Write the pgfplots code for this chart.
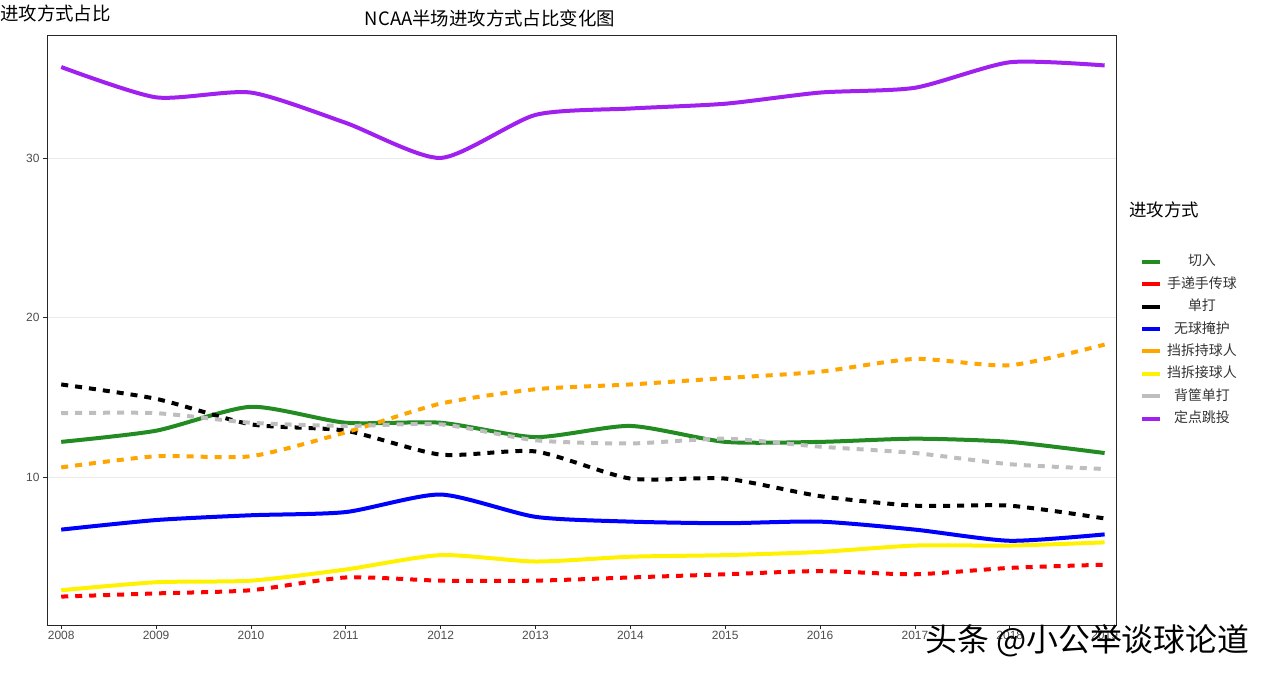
\documentclass[border=0pt]{standalone}
\usepackage{fontspec}
\setmainfont{Liberation Sans}
\newfontfamily\cjk{Noto Sans CJK SC}
\usepackage{pgfplots}
\pgfplotsset{compat=1.18}
\definecolor{cgreen}{RGB}{34,139,34}
\definecolor{corange}{RGB}{255,165,0}
\definecolor{cgray}{RGB}{190,190,190}
\definecolor{cpurple}{RGB}{160,32,240}
\definecolor{ctick}{RGB}{77,77,77}
\definecolor{cgrid}{RGB}{235,235,235}
\begin{document}
\begin{tikzpicture}[x=1bp,y=1bp]
\useasboundingbox (0,0) rectangle (1274,676);
\begin{axis}[
  at={(47bp,51bp)}, anchor=south west,
  scale only axis, width=1069bp, height=590bp,
  xmin=2007.85, xmax=2019.12, ymin=0.72, ymax=37.71,
  xtick={2008,2009,2010,2011,2012,2013,2014,2015,2016,2017,2018,2019},
  ytick={10,20,30},
  /pgf/number format/1000 sep={},
  /pgf/number format/assume math mode=true,
  ticklabel style={font=\fontsize{12}{14}\selectfont, text=ctick},
  xticklabel style={yshift=1bp},
  ymajorgrids, grid style={cgrid, line width=0.8bp},
  axis line style={black!85, line width=0.8bp},
  tick style={black!85, line width=0.8bp},
  tick align=outside, major tick length=4bp,
  tick pos=left,
  every axis plot/.append style={line width=4bp, smooth, tension=0.4},
  legend image code/.code={\draw[#1, solid, line width=4bp] (0bp,0bp) -- (18bp,0bp);},
  legend cell align=center,
  legend style={at={(1.0225,0.6274)}, anchor=north west, draw=none, fill=none,
    inner sep=0pt, outer sep=0pt, column sep=5bp, row sep=8.4bp,
    nodes={inner sep=0pt, text height=11bp, text depth=3bp},
    font=\cjk\fontsize{14}{16}\selectfont, text=black!80},
]
% 切入
\addplot[cgreen] coordinates {(2008,12.2)(2009,12.9)(2010,14.4)(2011,13.4)(2012,13.4)(2013,12.5)(2014,13.2)(2015,12.2)(2016,12.2)(2017,12.4)(2018,12.2)(2019,11.5)};
\addlegendentry{切入}
% 手递手传球
\addplot[red, dash pattern=on 7bp off 7bp] coordinates {(2008,2.5)(2009,2.7)(2010,2.9)(2011,3.7)(2012,3.5)(2013,3.5)(2014,3.7)(2015,3.9)(2016,4.1)(2017,3.9)(2018,4.3)(2019,4.5)};
\addlegendentry{手递手传球}
% 单打
\addplot[black, dash pattern=on 7bp off 7bp] coordinates {(2008,15.8)(2009,14.9)(2010,13.3)(2011,12.9)(2012,11.4)(2013,11.6)(2014,9.9)(2015,9.9)(2016,8.8)(2017,8.2)(2018,8.2)(2019,7.4)};
\addlegendentry{单打}
% 无球掩护
\addplot[blue] coordinates {(2008,6.7)(2009,7.3)(2010,7.6)(2011,7.8)(2012,8.9)(2013,7.5)(2014,7.2)(2015,7.1)(2016,7.2)(2017,6.7)(2018,6.0)(2019,6.4)};
\addlegendentry{无球掩护}
% 挡拆持球人
\addplot[corange, dash pattern=on 7bp off 7bp] coordinates {(2008,10.6)(2009,11.3)(2010,11.3)(2011,12.8)(2012,14.6)(2013,15.5)(2014,15.8)(2015,16.2)(2016,16.6)(2017,17.4)(2018,17.0)(2019,18.3)};
\addlegendentry{挡拆持球人}
% 挡拆接球人
\addplot[yellow] coordinates {(2008,2.9)(2009,3.4)(2010,3.5)(2011,4.2)(2012,5.1)(2013,4.7)(2014,5.0)(2015,5.1)(2016,5.3)(2017,5.7)(2018,5.7)(2019,5.9)};
\addlegendentry{挡拆接球人}
% 背筐单打
\addplot[cgray, dash pattern=on 7bp off 7bp] coordinates {(2008,14.0)(2009,14.0)(2010,13.4)(2011,13.2)(2012,13.3)(2013,12.3)(2014,12.1)(2015,12.4)(2016,11.9)(2017,11.5)(2018,10.8)(2019,10.5)};
\addlegendentry{背筐单打}
% 定点跳投
\addplot[cpurple] coordinates {(2008,35.7)(2009,33.8)(2010,34.1)(2011,32.2)(2012,30.0)(2013,32.7)(2014,33.1)(2015,33.4)(2016,34.1)(2017,34.4)(2018,36.0)(2019,35.8)};
\addlegendentry{定点跳投}
\end{axis}
\node[anchor=base, inner sep=0pt] at (490,650) {\cjk\fontsize{18.5}{20}\selectfont NCAA半场进攻方式占比变化图};
\node[anchor=base west, inner sep=0pt] at (0,655) {\cjk\fontsize{18.5}{20}\selectfont 进攻方式占比};
\node[anchor=base west, inner sep=0pt] at (1129,459) {\cjk\fontsize{17.5}{20}\selectfont 进攻方式};
\node[anchor=base west, inner sep=0pt] at (925,24) {\cjk\fontsize{32}{34}\selectfont 头条 @小公举谈球论道};
\end{tikzpicture}
\end{document}
